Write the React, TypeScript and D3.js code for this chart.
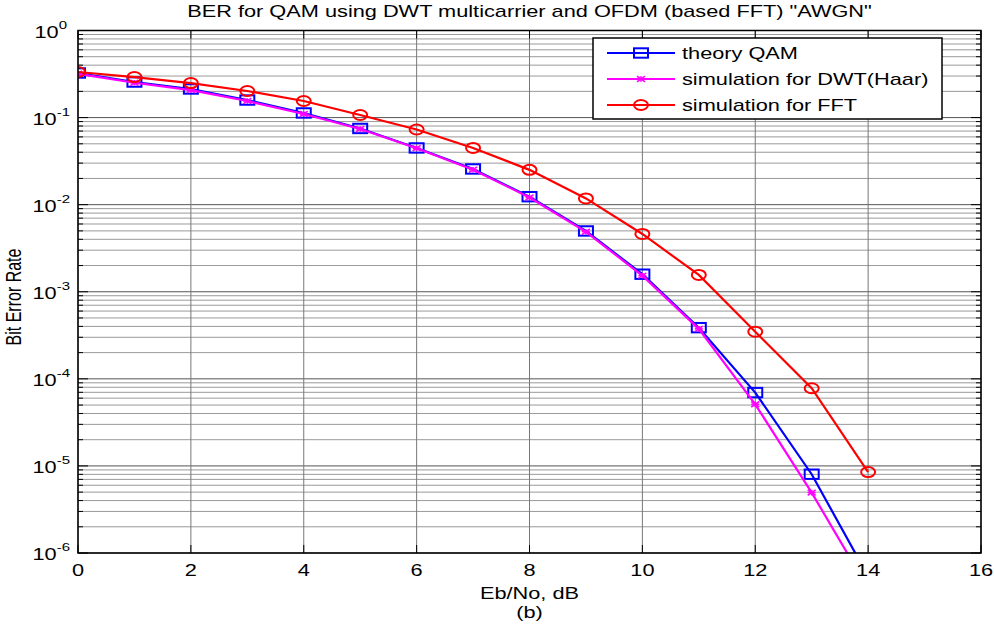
import * as d3 from "d3";

// Eb/No in dB and BER for each curve
const ebno = [0, 1, 2, 3, 4, 5, 6, 7, 8, 9, 10, 11, 12, 13, 14];
const theoryQam = [0.325, 0.256, 0.213, 0.159, 0.113, 0.075, 0.0448, 0.0257, 0.01235, 0.00499, 0.00159, 3.87e-4, 6.95e-5, 8.03e-6, 5.4e-7];
const dwtHaar = [0.318, 0.251, 0.207, 0.155, 0.11, 0.074, 0.0445, 0.0252, 0.0121, 0.00488, 0.00153, 3.75e-4, 5.1e-5, 4.93e-6, 3.9e-7];
const fftSim = [0.334, 0.292, 0.249, 0.202, 0.155, 0.107, 0.073, 0.0448, 0.0251, 0.0118, 0.00461, 0.00156, 3.48e-4, 7.8e-5, 8.5e-6];

const xTicks = [0, 2, 4, 6, 8, 10, 12, 14, 16];
const yExponents = [0, -1, -2, -3, -4, -5, -6];
const legendLabels = ["theory QAM", "simulation for DWT(Haar)", "simulation for FFT"];

const W = 994;
const H = 627;
const m = { left: 78, right: 981, top: 30.5, bottom: 553 };
const font = "'Liberation Sans', Arial, sans-serif";
// the picture is wider than it is tall compared to the original figure, so text and markers are stretched
const SX = 1.36;

const series = [
  { name: legendLabels[0], values: theoryQam, color: "#0000ff", marker: "square" },
  { name: legendLabels[1], values: dwtHaar, color: "#ff00ff", marker: "star" },
  { name: legendLabels[2], values: fftSim, color: "#ff0000", marker: "circle" },
];

function T({ x, y, anchor = "start", size = 16, children }: any) {
  return (
    <text transform={`translate(${x},${y}) scale(${SX},1)`} textAnchor={anchor} fontSize={size}>
      {children}
    </text>
  );
}

function Marker({ type, x, y, color }: { type: string; x: number; y: number; color: string }) {
  if (type === "square")
    return <rect x={x - 7} y={y - 4.7} width={14} height={9.4} fill="none" stroke={color} strokeWidth={2} />;
  if (type === "circle")
    return <ellipse cx={x} cy={y} rx={7} ry={5} fill="none" stroke={color} strokeWidth={2} />;
  const sx = 4;
  const sy = 2.8;
  return (
    <g stroke={color} strokeWidth={1.6}>
      <line x1={x - sx} x2={x + sx} y1={y} y2={y} />
      <line x1={x} x2={x} y1={y - sy} y2={y + sy} />
      <line x1={x - sx} x2={x + sx} y1={y - sy} y2={y + sy} />
      <line x1={x - sx} x2={x + sx} y1={y + sy} y2={y - sy} />
    </g>
  );
}

export default function App() {
  const x = d3.scaleLinear().domain([0, 16]).range([m.left, m.right]);
  const y = d3.scaleLog().domain([1e-6, 1]).range([m.bottom, m.top]);

  const minor: number[] = [];
  for (let e = -6; e < 0; e++) for (let k = 2; k <= 9; k++) minor.push(k * Math.pow(10, e));

  const line = d3
    .line<number>()
    .x((_, i) => x(ebno[i]))
    .y((v) => y(v));

  const lg = { x: 593, y: 38, w: 349, h: 81 };

  return (
    <svg width={W} height={H} style={{ position: "absolute", left: 0, top: 0, background: "#fff" }} fontFamily={font}>
      <defs>
        <clipPath id="plot">
          <rect x={m.left} y={m.top} width={m.right - m.left} height={m.bottom - m.top} />
        </clipPath>
      </defs>
      <rect x={m.left} y={m.top} width={m.right - m.left} height={m.bottom - m.top} fill="#fff" />

      {/* grid */}
      {minor.map((v, i) => (
        <line key={"mg" + i} x1={m.left} x2={m.right} y1={y(v)} y2={y(v)} stroke="#9a9a9a" strokeWidth={1} />
      ))}
      {yExponents.map((e) => (
        <line key={"yg" + e} x1={m.left} x2={m.right} y1={y(Math.pow(10, e))} y2={y(Math.pow(10, e))} stroke="#555" strokeWidth={1} />
      ))}
      {xTicks.map((t) => (
        <line key={"xg" + t} x1={x(t)} x2={x(t)} y1={m.top} y2={m.bottom} stroke="#777" strokeWidth={1} />
      ))}

      {/* ticks */}
      {xTicks.map((t) => (
        <g key={"xt" + t} stroke="#000">
          <line x1={x(t)} x2={x(t)} y1={m.bottom} y2={m.bottom - 8} />
          <line x1={x(t)} x2={x(t)} y1={m.top} y2={m.top + 8} />
        </g>
      ))}
      {minor.map((v, i) => (
        <g key={"mt" + i} stroke="#000">
          <line x1={m.left} x2={m.left + 5} y1={y(v)} y2={y(v)} />
          <line x1={m.right} x2={m.right - 5} y1={y(v)} y2={y(v)} />
        </g>
      ))}
      {yExponents.map((e) => (
        <g key={"yt" + e} stroke="#000">
          <line x1={m.left} x2={m.left + 10} y1={y(Math.pow(10, e))} y2={y(Math.pow(10, e))} />
          <line x1={m.right} x2={m.right - 10} y1={y(Math.pow(10, e))} y2={y(Math.pow(10, e))} />
        </g>
      ))}

      {/* curves */}
      <g clipPath="url(#plot)">
        {series.map((s) => (
          <g key={s.name}>
            <path d={line(s.values) || ""} fill="none" stroke={s.color} strokeWidth={2.2} />
            {s.values.map((v, i) => (
              <Marker key={i} type={s.marker} x={x(ebno[i])} y={y(v)} color={s.color} />
            ))}
          </g>
        ))}
      </g>

      {/* axes box */}
      <rect x={m.left} y={m.top} width={m.right - m.left} height={m.bottom - m.top} fill="none" stroke="#000" strokeWidth={1.5} />

      {/* tick labels */}
      {xTicks.map((t) => (
        <T key={"xl" + t} x={x(t)} y={m.bottom + 23} anchor="middle">
          {t}
        </T>
      ))}
      {yExponents.map((e) => (
        <T key={"yl" + e} x={e === 0 ? 67 : 70} y={y(Math.pow(10, e)) + 7} anchor="end">
          10
          <tspan dy={-9} fontSize={11}>
            {e}
          </tspan>
        </T>
      ))}

      {/* titles */}
      <T x={(m.left + m.right) / 2} y={17} anchor="middle">
        BER for QAM using DWT multicarrier and OFDM (based FFT) "AWGN"
      </T>
      <T x={(m.left + m.right) / 2} y={599} anchor="middle">
        Eb/No, dB
      </T>
      <T x={(m.left + m.right) / 2} y={618} anchor="middle">
        (b)
      </T>
      <text transform={`translate(21,297) scale(${SX},1) rotate(-90)`} textAnchor="middle" fontSize={16}>
        Bit Error Rate
      </text>

      {/* legend */}
      <rect x={lg.x} y={lg.y} width={lg.w} height={lg.h} fill="#fff" stroke="#000" strokeWidth={1.5} />
      {series.map((s, i) => {
        const cy = lg.y + 15 + i * 26;
        return (
          <g key={"lg" + i}>
            <line x1={lg.x + 14} x2={lg.x + 82} y1={cy} y2={cy} stroke={s.color} strokeWidth={2.2} />
            <Marker type={s.marker} x={lg.x + 48} y={cy} color={s.color} />
            <T x={lg.x + 89} y={cy + 6}>
              {s.name}
            </T>
          </g>
        );
      })}
    </svg>
  );
}
